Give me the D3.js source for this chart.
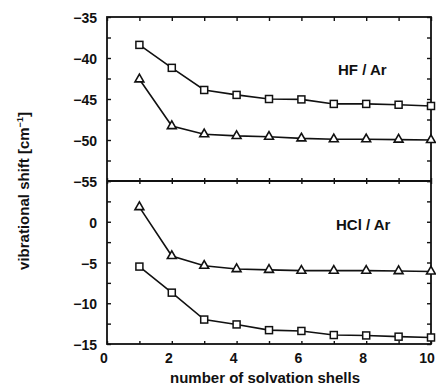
<!DOCTYPE html>
<html><head><meta charset="utf-8">
<script src="https://cdn.jsdelivr.net/npm/d3@7"></script>
<style>body{margin:0;background:#fff}svg{display:block}text{font-family:"Liberation Sans",Arial,Helvetica,sans-serif;font-weight:bold;fill:#111}</style>
</head><body><svg id="c" width="436" height="388"></svg>
<script>
const shells = [1,2,3,4,5,6,7,8,9,10];
const hfSquare = [-38.4,-41.2,-43.9,-44.5,-45.0,-45.05,-45.6,-45.6,-45.7,-45.85];
const hfTriangle = [-42.6,-48.3,-49.3,-49.5,-49.6,-49.8,-49.9,-49.9,-49.95,-50.0];
const hclTriangle = [1.8,-4.2,-5.4,-5.8,-5.9,-6.0,-6.0,-6.0,-6.05,-6.1];
const hclSquare = [-5.5,-8.7,-12.0,-12.6,-13.3,-13.4,-13.9,-13.95,-14.1,-14.2];
const xTickLabels = [0,2,4,6,8,10];
const topYLabels = [-35,-40,-45,-50,-55];
const botYLabels = [0,-5,-10,-15];

const svg = d3.select("#c");
const L=107, R=431, T=17, M=181, B=344;
const x = d3.scaleLinear().domain([0,10]).range([L,R]);
const yTop = d3.scaleLinear().domain([-55,-35]).range([M,T]);
const yBot = d3.scaleLinear().domain([-15,5]).range([B,M]);
const fmt = d => d<0 ? "\u2212"+Math.abs(d) : String(d);
const sw = 1.8;

function yTicks(scale, lo, hi){
  const vals = d3.range(lo, hi+0.01, 2.5);
  const g = svg.append("g");
  g.append("g").attr("transform",`translate(${L},0)`).call(d3.axisLeft(scale).tickValues(vals).tickSize(-4).tickFormat(""));
  g.append("g").attr("transform",`translate(${R},0)`).call(d3.axisRight(scale).tickValues(vals).tickSize(-4).tickFormat(""));
  g.selectAll(".domain").remove();
  g.selectAll("line").attr("stroke","#111").attr("stroke-width",1.4);
}
yTicks(yTop,-55,-35);
yTicks(yBot,-15,5);

const xt = d3.range(0,11,1);
const gTopX = svg.append("g").attr("transform",`translate(0,${T})`).call(d3.axisTop(x).tickValues(xt).tickSize(-4).tickFormat(""));
const gMidX = svg.append("g").attr("transform",`translate(0,${M+3})`).call(d3.axisTop(x).tickValues(xt).tickSize(6).tickFormat(""));
const gBotX = svg.append("g").attr("transform",`translate(0,${B})`).call(d3.axisBottom(x).tickValues(xt).tickSize(-3).tickFormat(""));
[gTopX,gMidX,gBotX].forEach(g=>{g.select(".domain").remove();g.selectAll("line").attr("stroke","#111").attr("stroke-width",1.4);});

svg.append("rect").attr("x",L).attr("y",T).attr("width",R-L).attr("height",B-T).attr("fill","none").attr("stroke","#111").attr("stroke-width",sw);
svg.append("line").attr("x1",L).attr("x2",R).attr("y1",M).attr("y2",M).attr("stroke","#111").attr("stroke-width",sw);

svg.append("g").selectAll("text").data(topYLabels).join("text")
  .attr("x",97).attr("y",d=>yTop(d)+1).attr("dy","0.36em").attr("text-anchor","end").attr("font-size",14).text(fmt);
svg.append("g").selectAll("text").data(botYLabels).join("text")
  .attr("x",97).attr("y",d=>yBot(d)+1).attr("dy","0.36em").attr("text-anchor","end").attr("font-size",14).text(fmt);
svg.append("g").selectAll("text").data(xTickLabels).join("text")
  .attr("x",d=>Math.min(x(d)-3, 427)).attr("y",363).attr("text-anchor","middle").attr("font-size",14).text(fmt);

svg.append("text").attr("x",265).attr("y",383).attr("text-anchor","middle").attr("font-size",15).text("number of solvation shells");
const yt = svg.append("text").attr("transform","translate(29,191) rotate(-90)").attr("text-anchor","middle").attr("font-size",15);
yt.append("tspan").text("vibrational shift [cm");
yt.append("tspan").attr("dy",-6).attr("font-size",9).text("\u22121");
yt.append("tspan").attr("dy",6).text("]");

svg.append("text").attr("x",338).attr("y",75).attr("font-size",15).text("HF / Ar");
svg.append("text").attr("x",336).attr("y",230).attr("font-size",15).text("HCl / Ar");

function series(vals, yScale, shape){
  const pts = shells.map((s,i)=>[x(s), yScale(vals[i])]);
  svg.append("path").attr("d",d3.line()(pts)).attr("fill","none").attr("stroke","#111").attr("stroke-width",1.6);
  const g = svg.append("g");
  if(shape==="square"){
    g.selectAll("rect").data(pts).join("rect").attr("x",d=>d[0]-3.5).attr("y",d=>d[1]-3.5).attr("width",7).attr("height",7)
      .attr("fill","#fff").attr("stroke","#111").attr("stroke-width",1.5);
  } else {
    const sym = d3.symbol().type(d3.symbolTriangle).size(34);
    g.selectAll("path").data(pts).join("path").attr("transform",d=>`translate(${d[0]},${d[1]})`).attr("d",sym())
      .attr("fill","#fff").attr("stroke","#111").attr("stroke-width",1.6);
  }
}
series(hfSquare, yTop, "square");
series(hfTriangle, yTop, "triangle");
series(hclTriangle, yBot, "triangle");
series(hclSquare, yBot, "square");
</script></body></html>
